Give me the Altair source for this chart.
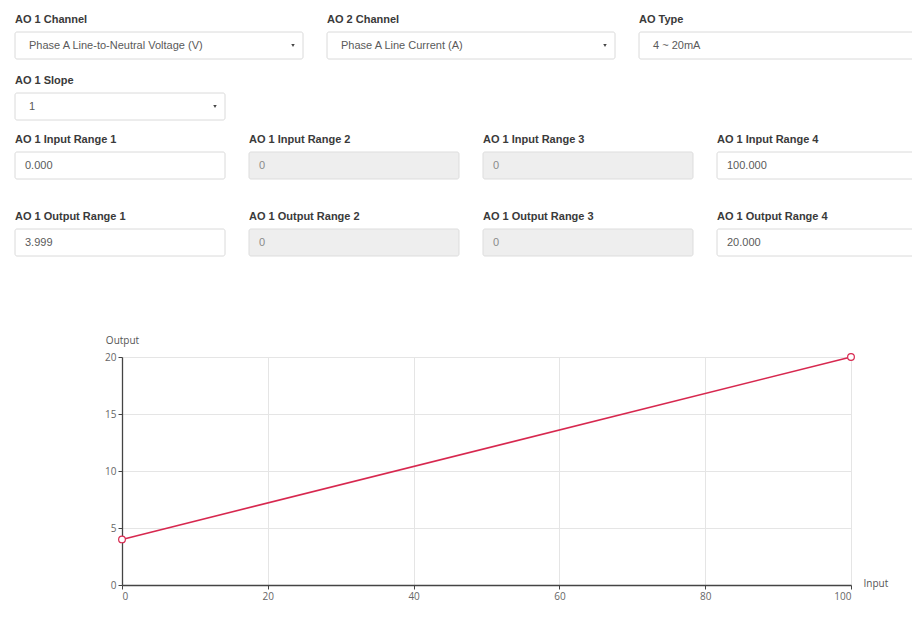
import altair as alt
import pandas as pd

# ---------------- chart data ----------------
INPUT = [0.0, 100.0]
OUTPUT = [3.999, 20.0]
X_TICKS = [0, 20, 40, 60, 80, 100]
Y_TICKS = [0, 5, 10, 15, 20]

# ---------------- form content (bootstrap-like 12 column grid) ----------------
FIELD_LABELS = [
    "AO 1 Channel", "AO 2 Channel", "AO Type", "AO 1 Slope",
    "AO 1 Input Range 1", "AO 1 Input Range 2", "AO 1 Input Range 3", "AO 1 Input Range 4",
    "AO 1 Output Range 1", "AO 1 Output Range 2", "AO 1 Output Range 3", "AO 1 Output Range 4",
]
FIELD_VALUES = [
    "Phase A Line-to-Neutral Voltage (V)", "Phase A Line Current (A)", "4 ~ 20mA", "1",
    "0.000", "0", "0", "100.000",
    "3.999", "0", "0", "20.000",
]
FIELD_KIND = ["select"] * 4 + ["input", "disabled", "disabled", "input"] * 2
FIELD_ROW = [0, 0, 0, 1, 2, 2, 2, 2, 3, 3, 3, 3]
FIELD_COL = [0, 4, 8, 0, 0, 3, 6, 9, 0, 3, 6, 9]
FIELD_SPAN = [4, 4, 4, 3, 3, 3, 3, 3, 3, 3, 3, 3]
ROW_LABEL_Y = [20, 81, 140, 217]  # label centre of each form row (page px)

# ---------------- layout ----------------
PLOT_W, PLOT_H = 729, 228
PAD_L, PAD_T, PAD_R, PAD_B = 114, 349, 61, 38
COL_PX = 78          # width of one grid column
GUTTER = 24          # gap between boxes
FORM_LEFT = 15       # page x of first column
RED = "#d7284f"

u = 1.0 / COL_PX
rows = []
for lab, val, kind, r, c, s in zip(FIELD_LABELS, FIELD_VALUES, FIELD_KIND,
                                   FIELD_ROW, FIELD_COL, FIELD_SPAN):
    ly = ROW_LABEL_Y[r]
    right = c + s - GUTTER * u
    rows.append(dict(
        label=lab, value=val, kind=kind,
        x=c, x2=right,
        ly=ly, top=ly + 12, bottom=ly + 39, cy=ly + 25.5,
        vx=c + (14 if kind == "select" else 10) * u,
        ax=right - 10 * u,
        fill="#eeeeee" if kind == "disabled" else "#ffffff",
        stroke="#dddddd" if kind == "disabled" else "#dadada",
        vcolor="#8a8a8a" if kind == "disabled" else "#5a5a5a",
    ))
form_df = pd.DataFrame(rows)

fx = alt.Scale(domain=[0, 12], range=[FORM_LEFT - (8 + PAD_L), FORM_LEFT - (8 + PAD_L) + 12 * COL_PX])
fy = alt.Scale(domain=[0, 8 + PAD_T], range=[-(8 + PAD_T), 0])

base = alt.Chart(form_df)
boxes = base.mark_rect(cornerRadius=2, strokeWidth=1).encode(
    x=alt.X("x:Q", scale=fx, axis=None),
    x2="x2:Q",
    y=alt.Y("top:Q", scale=fy, axis=None),
    y2="bottom:Q",
    fill=alt.Fill("fill:N", scale=None),
    stroke=alt.Stroke("stroke:N", scale=None),
)
labels = base.mark_text(align="left", baseline="middle", font="Liberation Sans",
                        fontWeight="bold", fontSize=11, color="#3a3a3a").encode(
    x=alt.X("x:Q", scale=fx, axis=None),
    y=alt.Y("ly:Q", scale=fy, axis=None),
    text="label:N",
)
values = base.mark_text(align="left", baseline="middle", font="Liberation Sans",
                        fontSize=11).encode(
    x=alt.X("vx:Q", scale=fx, axis=None),
    y=alt.Y("cy:Q", scale=fy, axis=None),
    text="value:N",
    color=alt.Color("vcolor:N", scale=None),
)
arrows = base.transform_filter(alt.datum.kind == "select").mark_point(
    shape="triangle-down", filled=True, size=12, color="#444444", opacity=1).encode(
    x=alt.X("ax:Q", scale=fx, axis=None),
    y=alt.Y("cy:Q", scale=fy, axis=None),
)
form = alt.layer(boxes, labels, values, arrows)

# ---------------- line chart ----------------
line_df = pd.DataFrame({"Input": INPUT, "Output": OUTPUT})
px = alt.X("Input:Q", scale=alt.Scale(domain=[0, 100], nice=False),
           axis=alt.Axis(orient="bottom", values=X_TICKS, title="Input",
                         titleAngle=0, titleX=741, titleY=-1.5, titleAlign="left",
                         titleBaseline="middle", grid=True))
py = alt.Y("Output:Q", scale=alt.Scale(domain=[0, 20], nice=False),
           axis=alt.Axis(orient="left", values=Y_TICKS, title="Output",
                         titleAngle=0, titleX=0, titleY=-17, titleAlign="center",
                         titleBaseline="middle", grid=True))
lc = alt.Chart(line_df)
line = lc.mark_line(color=RED, strokeWidth=1.6).encode(x=px, y=py)
pts = lc.mark_point(shape="circle", filled=True, fill="white", stroke=RED,
                    strokeWidth=1.2, size=45, opacity=1).encode(x=px, y=py)
plot = alt.layer(line, pts)

chart = alt.layer(form, plot).resolve_scale(x="independent", y="independent").properties(
    width=PLOT_W, height=PLOT_H,
    autosize=alt.AutoSizeParams(type="none"),
    padding={"left": PAD_L, "top": PAD_T, "right": PAD_R, "bottom": PAD_B},
).configure_view(stroke=None).configure_axis(
    gridColor="#e5e5e5", gridWidth=1,
    domainColor="#444444", domainWidth=1.3,
    tickColor="#444444", tickSize=4,
    labelFont="Open Sans", labelFontSize=10, labelColor="#666666",
    titleFont="Open Sans", titleFontSize=10, titleColor="#555555", titleFontWeight="normal",
)

chart.save("out.html", embed_options={"renderer": "svg", "actions": False})
